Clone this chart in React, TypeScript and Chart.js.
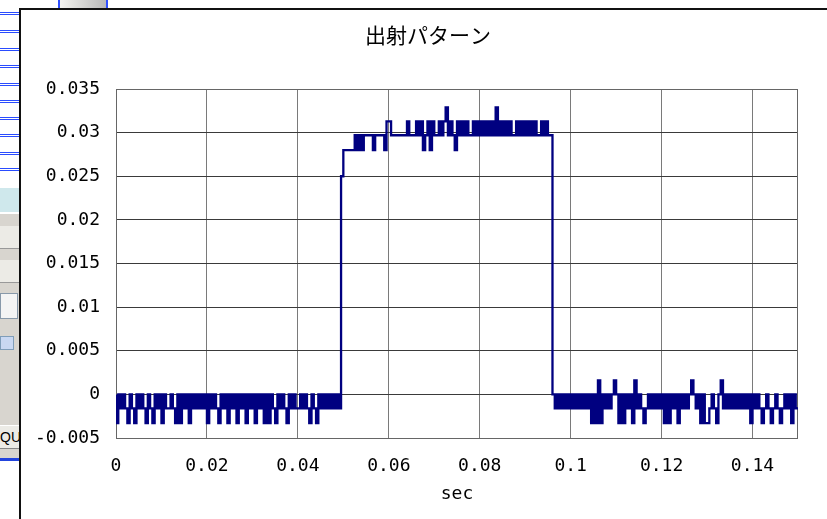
import React, { useEffect, useRef } from "react";
import { Chart, registerables } from "chart.js";

Chart.register(...registerables);

// ---- Data ----
const chartTitle = "出射パターン";
const xAxisTitle = "sec";
const sampleStart = 0; // s
const samplePeriod = 0.0005; // s

const xMin = 0;
const xMax = 0.15;
const xStep = 0.02;
const yMin = -0.005;
const yMax = 0.035;
const yStep = 0.005;

// 0 .. 0.0495 s : baseline before the pulse
const preSignal: number[] = [
  0, -0.0033, 0, -0.0016, 0, -0.0016, -0.0033, 0, -0.0016, -0.0033,
  0, -0.0016, 0, -0.0016, -0.0033, 0, -0.0016, -0.0033, 0, -0.0016,
  0, -0.0033, 0, -0.0016, -0.0016, 0, -0.0016, -0.0033, 0, -0.0033,
  0, -0.0016, 0, -0.0033, 0, -0.0016, 0, -0.0016, 0, -0.0016,
  0, -0.0033, 0, -0.0016, 0, -0.0016, -0.0033, 0, -0.0016, 0,
  -0.0033, 0, -0.0016, 0, -0.0033, 0, -0.0016, 0, -0.0033, 0,
  -0.0016, 0, -0.0033, 0, -0.0016, 0, -0.0033, 0, -0.0033, 0,
  -0.0016, -0.0033, 0, -0.0016, 0, -0.0016, -0.0033, 0, -0.0016, 0,
  -0.0016, -0.0016, 0, -0.0016, 0, -0.0016, -0.0033, 0, -0.0016, -0.0033,
  0, -0.0016, 0, -0.0016, 0, -0.0016, 0, -0.0016, 0, -0.0016,
];

// 0.05 .. 0.096 s : the pulse
const pulseSignal: number[] = [
  0.025, 0.028, 0.028, 0.028, 0.028, 0.028, 0.0297, 0.028, 0.0297, 0.028,
  0.0297, 0.0297, 0.0297, 0.0297, 0.028, 0.0297, 0.0297, 0.0297, 0.0297, 0.028,
  0.0313, 0.0313, 0.0297, 0.0297, 0.0297, 0.0297, 0.0297, 0.0297, 0.0297, 0.0313,
  0.0297, 0.0297, 0.0297, 0.0313, 0.0297, 0.0313, 0.028, 0.0297, 0.0313, 0.028,
  0.0313, 0.0297, 0.0297, 0.0313, 0.0297, 0.0313, 0.0329, 0.0297, 0.0313, 0.0297,
  0.028, 0.0313, 0.0297, 0.0313, 0.0297, 0.0313, 0.0297, 0.0297, 0.0313, 0.0297,
  0.0313, 0.0297, 0.0313, 0.0297, 0.0313, 0.0297, 0.0313, 0.0297, 0.0329, 0.0297,
  0.0313, 0.0297, 0.0313, 0.0297, 0.0313, 0.0297, 0.0297, 0.0313, 0.0297, 0.0313,
  0.0297, 0.0313, 0.0297, 0.0313, 0.0297, 0.0313, 0.0297, 0.0297, 0.0313, 0.0297,
  0.0313, 0.0297, 0.0297,
];

// 0.0965 .. 0.15 s : baseline after the pulse
const postSignal: number[] = [
  0, -0.0016, 0, -0.0016, 0, -0.0016, 0,
  -0.0016, 0, -0.0016, 0, -0.0016, 0, -0.0016, 0, -0.0016, 0,
  -0.0033, 0, -0.0033, 0.0016, -0.0033, 0, -0.0016, 0, -0.0016, 0,
  0.0016, 0, -0.0033, 0, -0.0033, 0, -0.0016, 0, -0.0033, 0.0016,
  -0.0016, 0, -0.0016, -0.0033, -0.0016, 0, -0.0016, 0, -0.0016, 0,
  -0.0016, 0, -0.0033, 0, -0.0033, 0, -0.0016, 0, -0.0033, 0,
  -0.0016, 0, -0.0016, 0, 0.0016, 0, -0.0016, 0, -0.0033, 0,
  -0.0033, -0.0033, -0.0016, 0, -0.0016, -0.0033, 0, 0.0016, -0.0016, 0,
  -0.0016, 0, -0.0016, 0, -0.0016, 0, -0.0016, 0, -0.0016, 0,
  -0.0033, 0, -0.0016, 0, -0.0016, -0.0033, -0.0016, 0, -0.0016, -0.0033,
  -0.0016, 0, -0.0016, -0.0033, -0.0016, 0, -0.0016, 0, -0.0033, 0,
  -0.0016,
];

const signal: number[] = [...preSignal, ...pulseSignal, ...postSignal];

const fmt = (v: number, digits: number) => {
  const n = Number(Number(v).toFixed(digits));
  return String(n);
};

const framePlugin = {
  id: "plotFrame",
  beforeDatasetsDraw(chart: any) {
    const { ctx, chartArea } = chart;
    const { left, top, right, bottom } = chartArea;
    ctx.save();
    ctx.strokeStyle = "#666666";
    ctx.lineWidth = 1;
    ctx.strokeRect(left + 0.5, top + 0.5, right - left - 1, bottom - top);
    ctx.restore();
  },
};

const tickFont = { family: "'DejaVu Sans Mono', monospace", size: 18 };

function App() {
  const canvasRef = useRef<HTMLCanvasElement | null>(null);

  useEffect(() => {
    if (!canvasRef.current) return;
    const points = signal.map((v, i) => ({ x: sampleStart + i * samplePeriod, y: v }));
    const chart = new Chart(canvasRef.current, {
      type: "line",
      data: {
        datasets: [
          {
            data: points,
            borderColor: "#000080",
            borderWidth: 2.3,
            pointRadius: 0,
            stepped: "after",
            fill: false,
          },
        ],
      },
      options: {
        animation: false,
        responsive: false,
        devicePixelRatio: 1,
        events: [],
        layout: { padding: { left: 20, top: 9, right: 0, bottom: 0 } },
        plugins: {
          legend: { display: false },
          tooltip: { enabled: false },
          title: {
            display: true,
            text: chartTitle,
            color: "#000",
            font: { family: "'Noto Sans CJK JP', sans-serif", size: 21, weight: "normal" },
            padding: { top: 13.4, bottom: 41.4 },
          },
        },
        scales: {
          x: {
            type: "linear",
            min: xMin,
            max: xMax,
            afterFit: (s: any) => {
              s.height = 81;
            },
            grid: { color: "#7a7a7a", lineWidth: 1, drawTicks: false },
            border: { display: false },
            ticks: {
              stepSize: xStep,
              includeBounds: false,
              maxRotation: 0,
              autoSkip: false,
              padding: 17.5,
              color: "#000",
              font: tickFont,
              callback: (v: any) => fmt(v, 2),
            },
            title: {
              display: true,
              text: xAxisTitle,
              color: "#000",
              font: tickFont,
              padding: { top: 0, bottom: 14.2 },
            },
          },
          y: {
            type: "linear",
            position: "left",
            min: yMin,
            max: yMax,
            afterFit: (s: any) => {
              s.width = 96;
            },
            grid: { color: "#3a3a3a", lineWidth: 1, drawTicks: false },
            border: { display: false },
            ticks: {
              stepSize: yStep,
              autoSkip: false,
              padding: 16,
              color: "#000",
              font: tickFont,
              callback: (v: any) => fmt(v, 3),
            },
          },
          y2: {
            type: "linear",
            position: "right",
            display: true,
            afterFit: (s: any) => {
              s.width = 38;
            },
            grid: { display: false, drawTicks: false },
            border: { display: false },
            ticks: { display: false },
          },
        },
      },
      plugins: [framePlugin],
    } as any);
    return () => chart.destroy();
  }, []);

  const blueLines = [12, 30, 48, 65, 83, 100, 117, 134, 152, 168];

  return (
    <div
      style={{
        position: "fixed",
        left: 0,
        top: 0,
        width: 827,
        height: 519,
        overflow: "hidden",
        background: "#ffffff",
      }}
    >
      {/* background window fragments on the left */}
      {blueLines.map((y) => (
        <div
          key={y}
          style={{ position: "absolute", left: 0, top: y, width: 20, height: 3, borderTop: "1px solid #2a4cff", borderBottom: "1px solid #2a4cff", boxSizing: "border-box" }}
        />
      ))}
      <div style={{ position: "absolute", left: 0, top: 188, width: 20, height: 24, background: "#cfe8ec" }} />
      <div style={{ position: "absolute", left: 0, top: 214, width: 20, height: 246, background: "#d8d5cf" }} />
      <div style={{ position: "absolute", left: 0, top: 226, width: 20, height: 22, background: "#ecebe6", borderBottom: "1px solid #999" }} />
      <div style={{ position: "absolute", left: 0, top: 260, width: 20, height: 22, background: "#ecebe6", borderBottom: "1px solid #999" }} />
      <div style={{ position: "absolute", left: 0, top: 293, width: 18, height: 26, background: "#f4f4f4", border: "1px solid #8899aa", boxSizing: "border-box" }} />
      <div style={{ position: "absolute", left: 0, top: 336, width: 14, height: 14, background: "#c9d8f2", border: "1px solid #7f9db9", boxSizing: "border-box" }} />
      <div style={{ position: "absolute", left: 0, top: 425, width: 20, height: 22, background: "#ecebe6", borderTop: "1px solid #fff", borderBottom: "1px solid #888", fontFamily: "'Liberation Sans', sans-serif", fontSize: 14, lineHeight: "22px", overflow: "hidden", whiteSpace: "nowrap" }}>QU</div>
      <div style={{ position: "absolute", left: 0, top: 458, width: 20, height: 3, background: "#2244dd" }} />
      <div style={{ position: "absolute", left: 58, top: 0, width: 50, height: 9, background: "linear-gradient(to right, #f4f4f0, #b8b8b8)", borderLeft: "2px solid #3050ff", borderRight: "2px solid #3050ff", boxSizing: "border-box" }} />

      {/* chart box */}
      <div
        style={{
          position: "absolute",
          left: 19,
          top: 8,
          width: 840,
          height: 540,
          background: "#ffffff",
          borderLeft: "2px solid #111",
          borderTop: "2px solid #111",
          boxSizing: "border-box",
        }}
      />
      <canvas
        ref={canvasRef}
        width={836}
        height={519}
        style={{ position: "absolute", left: 0, top: 0, width: 836, height: 519 }}
      />
    </div>
  );
}

export default App;
